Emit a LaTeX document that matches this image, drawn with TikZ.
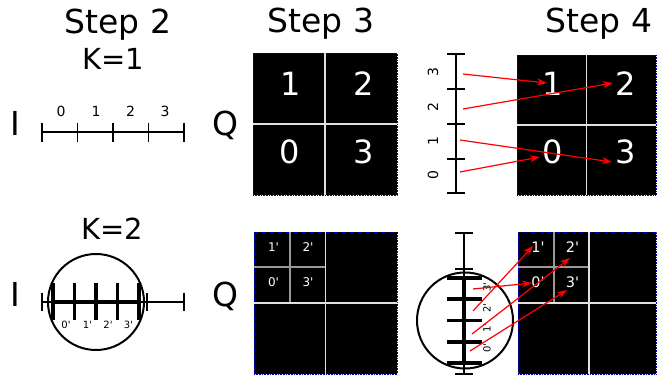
\documentclass[tikz,border=0pt]{standalone}
\usepackage{fontspec}
\setmainfont{DejaVu Sans}[Ligatures=TeXOff]
\usetikzlibrary{arrows.meta}

\begin{document}
\begin{tikzpicture}[
    x=1pt, y=-1pt,
    title/.style={
        font=\fontsize{33}{40}\selectfont,
        anchor=base,
        inner sep=0pt
    },
    klabel/.style={
        font=\fontsize{29}{34}\selectfont,
        anchor=base,
        inner sep=0pt
    },
    ticklabel/.style={
        font=\fontsize{14}{16}\selectfont,
        inner sep=0pt
    },
    primelabel/.style={
        font=\fontsize{10}{12}\selectfont,
        inner sep=0pt
    },
    thinline/.style={line width=1.6pt},
    thickline/.style={line width=3.4pt},
    lens/.style={
        draw,
        circle,
        line width=2pt,
        minimum size=96pt,
        inner sep=0pt
    },
    gridbox/.style={
        fill=black,
        draw=blue!70!black,
        densely dotted,
        line width=0.6pt,
        inner sep=0pt
    },
    divider/.style={draw=white!88!black, line width=1.2pt},
    subdivider/.style={draw=black!40, line width=1.2pt},
    cellnum/.style={
        text=white,
        font=\fontsize{32}{38}\selectfont,
        inner sep=0pt
    },
    cellprime/.style={
        text=white,
        font=\fontsize{12}{14}\selectfont,
        inner sep=0pt
    },
    bigprime/.style={
        text=white,
        font=\fontsize{14.5}{16}\selectfont,
        inner sep=0pt
    },
    map arrow/.style={
        draw=red,
        line width=1.2pt,
        -{Stealth[length=10pt, width=7pt]}
    }
]
\useasboundingbox (0,0) rectangle (657,377);

% titles
\node[title] (S2) at (118,34) {Step 2};
\node[title] (S3) at (321,33) {Step 3};
\node[title] (S4) at (599,33) {Step 4};
\node[klabel] (K1) at (113,70) {K=1};
\node[klabel] (K2) at (112,240) {K=2};

\node[title] (Itop) at (15,136) {I};
\node[title] (Qtop) at (225,136) {Q};
\node[title] (Ibot) at (15,307) {I};
\node[title] (Qbot) at (225,307) {Q};

% K=1 line
\draw[thinline] (42,132) -- (184,132);
\foreach \x in {42,77.5,113,148.5,184}
    \draw[thinline] (\x,123) -- (\x,142);
\node[ticklabel] (h0) at (61,111) {0};
\node[ticklabel] (h1) at (96,111) {1};
\node[ticklabel] (h2) at (130.5,111) {2};
\node[ticklabel] (h3) at (165,111) {3};

% K=2 line
\node[lens] (L2) at (96,302) {};
\draw[thinline] (42,302) -- (184,302);
\foreach \x in {42,147,184}
    \draw[thinline] (\x,293) -- (\x,311);
\draw[thickline] (53,302) -- (139,302);
\foreach \x in {53,74.5,96,117.5,139}
    \draw[thickline] (\x,283) -- (\x,320);
\node[primelabel] (p0) at (66,325) {0'};
\node[primelabel] (p1) at (87.5,325) {1'};
\node[primelabel] (p2) at (108,325) {2'};
\node[primelabel] (p3) at (128.5,325) {3'};

% Step 3, K=1
\node[gridbox, minimum width=144pt, minimum height=142pt] (G3a) at (325,124) {};
\draw[divider] (G3a.north) -- (G3a.south);
\draw[divider] (G3a.west) -- (G3a.east);
\node[cellnum] (c1) at (291,83.5) {1};
\node[cellnum] (c2) at (364,83.5) {2};
\node[cellnum] (c0) at (290,152) {0};
\node[cellnum] (c3) at (364,152) {3};

% Step 3, K=2
\node[gridbox, minimum width=143pt, minimum height=142pt] (G3b) at (325.5,303) {};
\draw[subdivider] (290,232) -- (290,302);
\draw[subdivider] (254,267) -- (325,267);
\draw[divider] (G3b.north) -- (G3b.south);
\draw[divider] (G3b.west) -- (G3b.east);
\node[cellprime] (q1) at (273.5,247.5) {1'};
\node[cellprime] (q2) at (308,247.5) {2'};
\node[cellprime] (q0) at (273.5,282.5) {0'};
\node[cellprime] (q3) at (308,282.5) {3'};

% Step 4, K=1
\node[gridbox, minimum width=139pt, minimum height=140pt] (G4a) at (586.5,125) {};
\draw[divider] (G4a.north) -- (G4a.south);
\draw[divider] (G4a.west) -- (G4a.east);
\node[cellnum] (d1) at (553,84) {1};
\node[cellnum] (d2) at (626,84) {2};
\node[cellnum] (d0) at (553,152) {0};
\node[cellnum] (d3) at (626,152) {3};

\draw[thinline] (456,54) -- (456,193);
\foreach \y in {54,89,124,159,193}
    \draw[thinline] (447,\y) -- (465,\y);
\node[ticklabel, rotate=90] (v3) at (433,72.5) {3};
\node[ticklabel, rotate=90] (v2) at (433,107.5) {2};
\node[ticklabel, rotate=90] (v1) at (433,141) {1};
\node[ticklabel, rotate=90] (v0) at (433,175) {0};

\coordinate (s3) at (463,74);
\coordinate (s2) at (463,109);
\coordinate (s1) at (460,140);
\coordinate (s0) at (460,172);
\coordinate (e1) at (547,83);
\coordinate (e2) at (613,83);
\coordinate (e3) at (612,162);
\coordinate (e0) at (540,157);
\draw[map arrow] (s3) -- (e1);
\draw[map arrow] (s2) -- (e2);
\draw[map arrow] (s1) -- (e3);
\draw[map arrow] (s0) -- (e0);

% Step 4, K=2
\node[gridbox, minimum width=138pt, minimum height=142pt] (G4b) at (587,303) {};
\draw[subdivider] (554,232) -- (554,302);
\draw[subdivider] (518,267) -- (589,267);
\draw[divider] (589,232) -- (589,374);
\draw[divider] (G4b.west) -- (G4b.east);
\node[bigprime] (r1) at (538,247) {1'};
\node[bigprime] (r2) at (572.5,247) {2'};
\node[bigprime] (r0) at (538,282) {0'};
\node[bigprime] (r3) at (572.5,282) {3'};

\node[lens] (L4) at (465,320.5) {};
\draw[thinline] (464,233) -- (464,374);
\foreach \y in {233,269,374}
    \draw[thinline] (455,\y) -- (473,\y);
\draw[thickline] (464,278) -- (464,363);
\foreach \y in {278,299,320.5,342,363}
    \draw[thickline] (447,\y) -- (482,\y);
\node[primelabel, rotate=90] (w0) at (487,348) {0'};
\node[primelabel, rotate=90] (w1) at (487,328) {1'};
\node[primelabel, rotate=90] (w2) at (487,308) {2'};
\node[primelabel, rotate=90] (w3) at (487,287) {3'};

\coordinate (u3) at (473,289);
\coordinate (u2) at (473,311);
\coordinate (u1) at (472,334);
\coordinate (u0) at (470,351);
\coordinate (f0) at (532,283);
\coordinate (f1) at (533,246);
\coordinate (f2) at (570,258);
\coordinate (f3) at (567,290);
\draw[map arrow] (u3) -- (f0);
\draw[map arrow] (u2) -- (f1);
\draw[map arrow] (u1) -- (f2);
\draw[map arrow] (u0) -- (f3);
\end{tikzpicture}
\end{document}
